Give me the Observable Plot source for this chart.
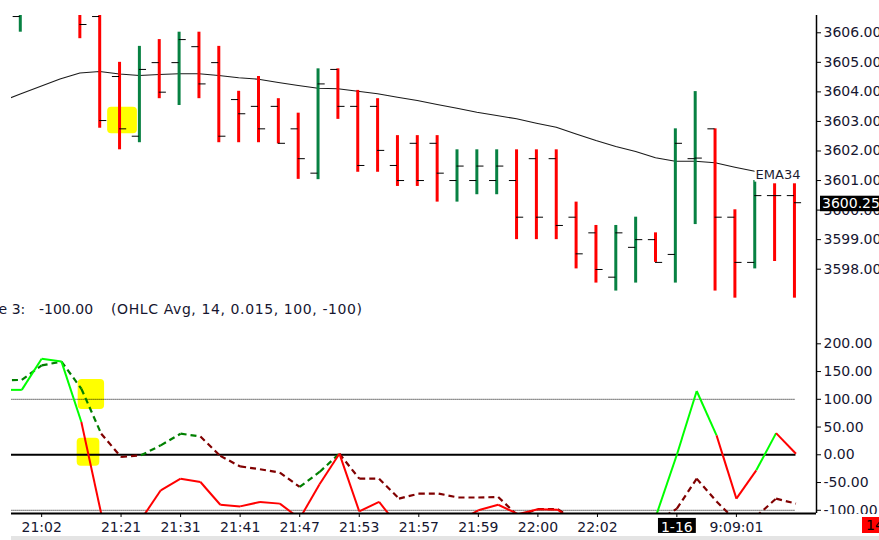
<!DOCTYPE html>
<html><head><meta charset="utf-8">
<script src="https://cdn.jsdelivr.net/npm/d3@7"></script>
<script src="https://cdn.jsdelivr.net/npm/@observablehq/plot@0.6"></script>
<style>
html,body{margin:0;padding:0;background:#fff;overflow:hidden;}
#wrap{position:relative;width:879px;height:540px;overflow:hidden;font-family:"DejaVu Sans",sans-serif;background:#fff;}
#top,#bot{position:absolute;left:0;}
#top{top:0;}
#bot{top:320px;}
.lbl{position:absolute;top:301.5px;font-size:14px;line-height:14px;color:#161630;white-space:pre;}
#lastbox{position:absolute;left:862px;top:517px;width:30px;height:16px;background:#ff0000;color:#000;font-size:14px;line-height:16px;padding-left:4px;box-sizing:border-box;}
#strip{position:absolute;left:11px;top:536px;width:868px;height:4px;background:#e4e4e4;}
</style></head><body>
<div id="wrap">
  <div id="top"></div>
  <div id="bot"></div>
  <div class="lbl" style="left:-22px">Line 3:</div>
  <div class="lbl" style="left:39px">-100.00</div>
  <div class="lbl" style="left:111px;letter-spacing:0.6px">(OHLC Avg, 14, 0.015, 100, -100)</div>
  <div id="lastbox">14</div>
  <div id="strip"></div>
</div>
<script>
// ---------- data ----------
const barIndex = [0,1,2,3,4,5,6,7,8,9,10,11,12,13,14,15,16,17,18,19,20,21,22,23,24,25,26,27,28,29,30,31,32,33,34,35,36,37,38,39];
const open  = [3606.55,3607.20,3607.10,3607.00,3606.55,3604.52,3602.50,3604.99,3604.99,3605.53,3604.99,3603.74,3603.51,3603.51,3602.75,3601.25,3604.76,3603.51,3603.51,3601.51,3602.26,3602.26,3601.00,3601.00,3601.00,3601.00,3601.74,3601.74,3599.76,3599.23,3597.73,3598.74,3599.00,3598.50,3601.74,3602.75,3599.76,3598.23,3600.49,3600.49];
const high  = [3607.00,3607.60,3607.50,3607.20,3606.62,3605.00,3605.54,3605.77,3606.02,3606.02,3605.54,3604.02,3604.52,3603.77,3603.28,3604.78,3604.78,3604.05,3603.77,3602.52,3602.52,3602.52,3602.04,3602.04,3602.04,3602.04,3602.04,3602.04,3600.27,3599.48,3599.48,3599.76,3599.23,3602.75,3604.01,3602.75,3600.01,3601.00,3600.89,3600.89];
const low   = [3606.02,3606.80,3606.75,3605.80,3602.77,3602.04,3602.28,3603.77,3603.54,3603.77,3602.28,3602.28,3602.28,3602.24,3601.04,3601.03,3603.07,3601.28,3601.28,3600.80,3600.80,3600.27,3600.27,3600.52,3600.52,3599.00,3599.00,3599.00,3598.01,3597.53,3597.26,3597.53,3598.23,3597.53,3599.51,3597.26,3597.02,3598.01,3598.26,3597.02];
const close = [3606.90,3607.40,3606.90,3606.28,3603.03,3602.75,3604.76,3603.99,3605.77,3604.27,3602.50,3603.26,3602.75,3602.26,3601.74,3604.27,3603.51,3601.51,3602.02,3601.00,3601.00,3601.25,3601.49,3601.49,3601.49,3599.76,3599.76,3599.48,3598.52,3597.99,3599.23,3599.00,3598.23,3602.26,3601.76,3599.76,3598.23,3600.49,3600.49,3600.25];

// indicator / average series start one bar before the first drawn bar
const seriesIndex = [-1,0,1,2,3,4,5,6,7,8,9,10,11,12,13,14,15,16,17,18,19,20,21,22,23,24,25,26,27,28,29,30,31,32,33,34,35,36,37,38,39];
const ema34 = [3603.668,3603.926,3604.183,3604.437,3604.640,3604.690,3604.606,3604.555,3604.589,3604.613,3604.613,3604.555,3604.477,3604.430,3604.318,3604.217,3604.125,3604.105,3604.024,3603.936,3603.821,3603.709,3603.574,3603.448,3603.313,3603.201,3603.090,3602.941,3602.805,3602.575,3602.355,3602.152,3601.983,3601.770,3601.655,3601.655,3601.601,3601.452,3601.316,3601.255,3601.205];
const cci = [117,117,173,168,59,-106,-140,-117,-64,-43,-49,-90,-93,-85,-88,-115,-53,2,-102,-85,-130,-150,-140,-120,-100,-90,-107,-98,-99,-125,-150,-160,-140,-105,0,115,35,-79,-28,39,2];
const cciSignal = [134,135,161,168,119,38,-4,-1,17,38,33,-2,-21,-26,-32,-58,-31,2,-43,-43,-79,-70,-70,-77,-77,-76,-110,-98,-98,-120,-140,-150,-140,-120,-97,-43,-84,-120,-111,-79,-88];
// state of each segment (from seriesIndex[k] to seriesIndex[k+1])
const cciState = ["up","up","up","up","down","down","down","down","down","down","down","down","down","down","down","down","down","down","down","down","down","down","down","down","down","down","down","down","down","down","down","down","down","up","up","up","down","down","up","down"];
const signalState = ["up","up","up","up","up","down","down","up","up","up","down","down","down","down","down","up","up","down","down","down","down","down","down","down","down","down","down","down","down","down","down","down","down","down","down","down","down","down","down","down"];

const priceTicks = [3598,3599,3600,3601,3602,3603,3604,3605,3606];
const cciTicks = [-100,-50,0,50,100,150,200];
const cciLevels = [-100,100];
const xTickIndex = [1,5,8,11,14,17,20,23,26,29,33,36];
const xTickLabel = ["21:02","21:21","21:31","21:41","21:47","21:53","21:57","21:59","22:00","22:02","1-16","9:09:01"];
const emaLabel = "EMA34";
const dateLabel = "1-16";

// highlighted zones (bar index range, value range)
const priceHighlight = [{i1:4.4, i2:5.9, lo:3602.58, hi:3603.48}];
const cciHighlight = [{i1:2.84, i2:4.17, lo:81.6, hi:135.7},{i1:2.79, i2:3.93, lo:-20.5, hi:29.9}];

// ---------- build ----------
const bars = barIndex.map((i,k)=>({i, o:open[k], h:high[k], l:low[k], c:close[k]}));
const emaData = seriesIndex.map((i,k)=>({i, v:ema34[k]}));
const segs = (vals, states) => vals.slice(0,-1).map((v,k)=>({x1:seriesIndex[k], x2:seriesIndex[k+1], y1:v, y2:vals[k+1], s:states[k]}));
const cciSegs = segs(cci, cciState);
const sigSegs = segs(cciSignal, signalState);
const labelMap = new Map(xTickIndex.map((d,k)=>[d, xTickLabel[k]]));

const GREEN = "#078142", RED = "#ff0000";
const TICK = 0.36;
const X_TOP = [-0.443, 40.111];
const X_BOT = [-0.519, 40.035];
const Y_TOP = [3596.264, 3606.585];
const Y_BOT = [-105.8, 242];
const textColor = "#161630";
const font = {fontFamily:"DejaVu Sans", fontSize:"14px", overflow:"visible", background:"transparent"};
const lastI = seriesIndex[seriesIndex.length-1];

const topPlot = Plot.plot({
  width:879, height:320, marginTop:15, marginBottom:0, marginLeft:11, marginRight:63,
  x:{domain:X_TOP, axis:null},
  y:{domain:Y_TOP, label:null},
  color:{type:"identity"},
  style:font,
  marks:[
    Plot.rect(priceHighlight, {x1:"i1", x2:"i2", y1:"lo", y2:"hi", fill:"#ffff00", rx:4, clip:true}),
    Plot.line(emaData, {x:"i", y:"v", stroke:"#1a1a1a", strokeWidth:1.1, clip:true}),
    Plot.ruleX(bars, {x:"i", y1:"l", y2:"h", stroke:d=>d.c>d.o?GREEN:RED, strokeWidth:3, clip:true}),
    Plot.ruleY(bars, {y:"o", x1:d=>d.i-TICK, x2:d=>d.i, stroke:"#000", strokeWidth:1, clip:true}),
    Plot.ruleY(bars, {y:"c", x1:d=>d.i, x2:d=>d.i+TICK, stroke:"#000", strokeWidth:1, clip:true}),
    Plot.text([ema34[ema34.length-1]], {x:()=>lastI, y:d=>d, text:()=>emaLabel, textAnchor:"end", dx:6, fontSize:13, fill:"#1c1c30"}),
    Plot.ruleX([X_TOP[1]], {stroke:"#000", strokeWidth:1.5}),
    Plot.axisY({anchor:"right", ticks:priceTicks, tickFormat:d=>d.toFixed(2), tickSize:4, tickPadding:3, stroke:"#000", fill:textColor, fontSize:14, label:null})
  ]
});

const botPlot = Plot.plot({
  width:879, height:220, marginTop:0, marginBottom:27, marginLeft:11, marginRight:63,
  x:{domain:X_BOT, label:null},
  y:{domain:Y_BOT, label:null},
  color:{type:"identity"},
  style:font,
  marks:[
    Plot.rect(cciHighlight, {x1:"i1", x2:"i2", y1:"lo", y2:"hi", fill:"#ffff00", rx:4, clip:true}),
    Plot.ruleY(cciLevels, {x1:seriesIndex[0], x2:lastI, stroke:"#000", strokeWidth:1, strokeDasharray:"1,1", clip:true}),
    Plot.ruleY([0], {x1:seriesIndex[0], x2:lastI, stroke:"#000", strokeWidth:2, clip:true}),
    Plot.link(sigSegs, {x1:"x1", y1:"y1", x2:"x2", y2:"y2", stroke:d=>d.s==="up"?"#008000":"#800000", strokeWidth:2.2, strokeDasharray:"6,4", clip:true}),
    Plot.link(cciSegs, {x1:"x1", y1:"y1", x2:"x2", y2:"y2", stroke:d=>d.s==="up"?"#00ff00":"#ff0000", strokeWidth:2, clip:true}),
    Plot.ruleX([X_BOT[1]], {stroke:"#000", strokeWidth:1.5}),
    Plot.ruleY([Y_BOT[0]], {stroke:"#000", strokeWidth:2}),
    Plot.axisY({anchor:"right", ticks:cciTicks, tickFormat:d=>d.toFixed(2), tickSize:4, tickPadding:3, stroke:"#000", fill:textColor, fontSize:14, label:null}),
    Plot.axisX({anchor:"bottom", ticks:xTickIndex, tickFormat:d=>labelMap.get(d), tickSize:4, tickPadding:5, stroke:"#000", fill:textColor, fontSize:14, label:null})
  ]
});

document.getElementById("top").append(topPlot);
document.getElementById("bot").append(botPlot);

const NS = "http://www.w3.org/2000/svg";
function boxBehind(svg, str, pad, fill, textFill){
  const t = Array.from(svg.querySelectorAll("text")).find(e=>e.textContent===str);
  if(!t) return;
  const b = t.getBBox();
  const r = document.createElementNS(NS,"rect");
  r.setAttribute("x", b.x-pad[0]);
  r.setAttribute("y", b.y+pad[1]);
  r.setAttribute("width", b.width+2*pad[0]);
  r.setAttribute("height", b.height+pad[2]);
  r.setAttribute("fill", fill);
  if(t.getAttribute("transform")) r.setAttribute("transform", t.getAttribute("transform"));
  t.parentNode.insertBefore(r,t);
  if(textFill) t.setAttribute("fill", textFill);
}
boxBehind(botPlot, dateLabel, [3,-1.5,-1], "#000", "#fff");
boxBehind(topPlot, emaLabel, [1,0,0], "#fff", null);

// last price label on the right axis
const lastClose = close[close.length-1];
const sy = (v)=> 15 + (Y_TOP[1]-v)/(Y_TOP[1]-Y_TOP[0])*305;
let yc;
try { yc = topPlot.scale("y").apply(lastClose); } catch(e) { yc = sy(lastClose); }
if (!isFinite(yc)) yc = sy(lastClose);
const g = document.createElementNS(NS,"g");
g.setAttribute("text-anchor","start");
const pr = document.createElementNS(NS,"rect");
pr.setAttribute("x",820); pr.setAttribute("y",yc-6.5); pr.setAttribute("width",70); pr.setAttribute("height",15.5); pr.setAttribute("fill","#000");
const pt = document.createElementNS(NS,"text");
pt.setAttribute("x",822); pt.setAttribute("y",yc+1.2); pt.setAttribute("dy","0.36em"); pt.setAttribute("fill","#fff");
pt.setAttribute("text-anchor","start");
pt.setAttribute("font-size","14"); pt.textContent = lastClose.toFixed(2);
g.append(pr, pt); topPlot.append(g);

// mask under the indicator frame on the right (cuts the lowest tick label)
const m = document.createElementNS(NS,"rect");
m.setAttribute("x",817); m.setAttribute("y",194); m.setAttribute("width",70); m.setAttribute("height",30); m.setAttribute("fill","#fff");
botPlot.append(m);
</script>
</body></html>
